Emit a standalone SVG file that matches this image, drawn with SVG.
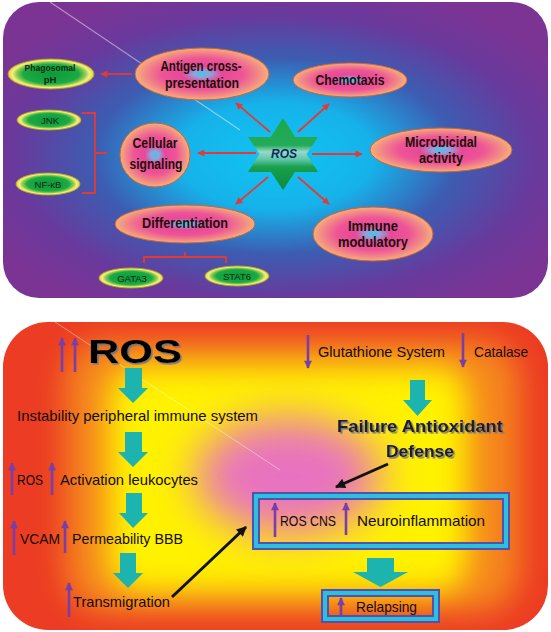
<svg xmlns="http://www.w3.org/2000/svg" width="551" height="632" viewBox="0 0 551 632">
<defs>
<style>
text{font-family:"Liberation Sans",Arial,sans-serif}
.nl{font-weight:bold;fill:#1a1208;text-anchor:middle;font-size:14.5px}
.gl{fill:#0b2a12;text-anchor:middle;font-size:9.5px}
.bt{fill:#140c08;font-size:14.5px}
.red{stroke:#e53935;stroke-width:1.8;fill:none;marker-end:url(#rh)}
.br{stroke:#e53935;stroke-width:1.8;fill:none}
.pu{stroke:#7a3fa6;stroke-width:2.6;marker-end:url(#ph)}
.bk{stroke:#111;stroke-width:3;marker-end:url(#bh)}
.teal{fill:#1db3ae}
.pk{fill:url(#pinkG);stroke:#c8643c;stroke-width:1}
.gr{fill:url(#greenG);stroke:#b8a828;stroke-width:0.8}
</style>
<radialGradient id="topBg" cx="0.5" cy="0.52" r="0.6">
<stop offset="0" stop-color="#10c4f2"/>
<stop offset="0.3" stop-color="#16b2ea"/>
<stop offset="0.55" stop-color="#3c5db2"/>
<stop offset="0.8" stop-color="#69399c"/>
<stop offset="1" stop-color="#7b3494"/>
</radialGradient>
<radialGradient id="pinkG" cx="0.5" cy="0.5" r="0.5">
<stop offset="0" stop-color="#38c8ec"/>
<stop offset="0.12" stop-color="#8ea4dc"/>
<stop offset="0.3" stop-color="#e8489a"/>
<stop offset="0.6" stop-color="#ee5496"/>
<stop offset="0.85" stop-color="#f28a86"/>
<stop offset="1" stop-color="#f6b078"/>
</radialGradient>
<radialGradient id="greenG" cx="0.5" cy="0.5" r="0.5">
<stop offset="0" stop-color="#0e983c"/>
<stop offset="0.65" stop-color="#1aaa44"/>
<stop offset="0.8" stop-color="#8ccc50"/>
<stop offset="0.9" stop-color="#f4f080"/>
<stop offset="1" stop-color="#e2cc36"/>
</radialGradient>
<linearGradient id="starG" x1="0" y1="0" x2="0" y2="1">
<stop offset="0" stop-color="#1ea64c"/>
<stop offset="0.38" stop-color="#22ac58"/>
<stop offset="0.47" stop-color="#9ad8cc"/>
<stop offset="0.58" stop-color="#5cc4a8"/>
<stop offset="0.68" stop-color="#18a04c"/>
<stop offset="1" stop-color="#0c8a3c"/>
</linearGradient>
<clipPath id="botClip"><rect x="3" y="322" width="545" height="308" rx="45"/></clipPath>
<filter id="b15" x="-50%" y="-50%" width="200%" height="200%"><feGaussianBlur stdDeviation="15"/></filter>
<filter id="b22" x="-50%" y="-50%" width="200%" height="200%"><feGaussianBlur stdDeviation="22"/></filter>
<filter id="sh" x="-10%" y="-20%" width="130%" height="150%"><feDropShadow dx="1.6" dy="1.6" stdDeviation="0.4" flood-color="#777" flood-opacity="1"/></filter>
<marker id="rh" viewBox="0 0 10 10" refX="9" refY="5" markerWidth="8" markerHeight="7" markerUnits="userSpaceOnUse" orient="auto"><path d="M0,0 L10,5 L0,10 z" fill="#e53935"/></marker>
<marker id="ph" viewBox="0 0 10 10" refX="9" refY="5" markerWidth="10" markerHeight="8" markerUnits="userSpaceOnUse" orient="auto"><path d="M0,0 L10,5 L0,10 z" fill="#7a3fa6"/></marker>
<marker id="bh" viewBox="0 0 10 10" refX="9" refY="5" markerWidth="12" markerHeight="10" markerUnits="userSpaceOnUse" orient="auto"><path d="M0,0 L10,5 L0,10 z" fill="#111"/></marker>
</defs>
<rect width="551" height="632" fill="#fff"/>

<!-- top panel -->
<g id="top-panel">
<rect x="3" y="2" width="545" height="296" rx="36" fill="url(#topBg)"/>
<line x1="50" y1="2" x2="240" y2="130" stroke="#fff" stroke-opacity="0.45" stroke-width="1.2"/>
</g>

<!-- bottom panel -->
<g id="bottom-panel">
<g clip-path="url(#botClip)">
<rect x="3" y="322" width="545" height="308" fill="#ec3c24"/>
<rect x="65" y="340" width="455" height="272" rx="40" fill="#f5861e" filter="url(#b15)"/>
<rect x="108" y="366" width="360" height="226" rx="30" fill="#fff200" filter="url(#b15)"/>
<ellipse cx="288" cy="476" rx="92" ry="58" fill="#e872c0" filter="url(#b22)"/>
<line x1="55" y1="322" x2="280" y2="470" stroke="#fff" stroke-opacity="0.4" stroke-width="1"/>
</g>
</g>

<!-- connectors -->
<g id="connectors">
<line class="red" x1="132" y1="74" x2="101" y2="74"/>
<path class="br" d="M82,113 H95 V193 H82 M95,153 H107"/>
<path class="br" d="M144,263 V257 H226 V263 M185,257 V252"/>
<line class="red" x1="270" y1="132" x2="236" y2="103"/>
<line class="red" x1="298" y1="132" x2="329" y2="104"/>
<line class="red" x1="256" y1="153" x2="198" y2="153"/>
<line class="red" x1="312" y1="154" x2="362" y2="154"/>
<line class="red" x1="268" y1="177" x2="236" y2="204"/>
<line class="red" x1="298" y1="177" x2="329" y2="204"/>
<path class="teal" d="M125,368 H142 V388 H148 L133,403 L118,388 H125 Z"/>
<path class="teal" d="M125,432 H142 V452 H148 L133,467 L118,452 H125 Z"/>
<path class="teal" d="M126,493 H142 V513 H148 L133,528 L119,513 H126 Z"/>
<path class="teal" d="M120,553 H136 V573 H143 L128,588 L113,573 H120 Z"/>
<path class="teal" d="M410,380 H425 V400 H432 L417.5,416 L403,400 H410 Z"/>
<path class="teal" d="M367,558 H394 V572 H408 L380.5,587 L353,572 H367 Z"/>
<line class="bk" x1="172" y1="597" x2="246" y2="527"/>
<line class="bk" x1="388" y1="464" x2="336" y2="487"/>
<line class="pu" x1="62" y1="372" x2="62" y2="338"/>
<line class="pu" x1="75" y1="372" x2="75" y2="338"/>
<line class="pu" x1="12" y1="495" x2="12" y2="463"/>
<line class="pu" x1="52" y1="495" x2="52" y2="463"/>
<line class="pu" x1="14" y1="555" x2="14" y2="521"/>
<line class="pu" x1="65" y1="553" x2="65" y2="521"/>
<line class="pu" x1="69" y1="617" x2="69" y2="583"/>
<line class="pu" x1="275" y1="537" x2="275" y2="503"/>
<line class="pu" x1="346" y1="535" x2="346" y2="503"/>
<line class="pu" x1="341" y1="615" x2="341" y2="598"/>
<line class="pu" x1="308" y1="335" x2="308" y2="368"/>
<line class="pu" x1="463" y1="333" x2="463" y2="367"/>
</g>

<!-- top nodes -->
<g id="antigen">
<ellipse class="pk" cx="202" cy="74" rx="67" ry="26"/>
<text class="nl" x="201" y="71" textLength="81" lengthAdjust="spacingAndGlyphs">Antigen cross-</text>
<text class="nl" x="202" y="88" textLength="74" lengthAdjust="spacingAndGlyphs">presentation</text>
</g>
<g id="phagosomal">
<ellipse class="gr" cx="51" cy="74" rx="43" ry="15"/>
<text class="gl" x="50" y="71" font-weight="bold" textLength="51" lengthAdjust="spacingAndGlyphs">Phagosomal</text>
<text class="gl" x="50" y="83" font-weight="bold">pH</text>
</g>
<g id="jnk">
<ellipse class="gr" cx="49" cy="120" rx="32" ry="10"/>
<text class="gl" x="50" y="124">JNK</text>
</g>
<g id="nfkb">
<ellipse class="gr" cx="48" cy="184" rx="32" ry="11"/>
<text class="gl" x="48" y="187.5">NF-κB</text>
</g>
<g id="cellular">
<ellipse class="pk" cx="155" cy="155" rx="35" ry="32"/>
<text class="nl" x="155" y="148" font-size="22" textLength="45" lengthAdjust="spacingAndGlyphs">Cellular</text>
<text class="nl" x="156" y="169" font-size="22" textLength="53" lengthAdjust="spacingAndGlyphs">signaling</text>
</g>
<g id="ros-star">
<polygon points="283,118 295.3,137 318,137 306.5,154 318,172 295,172 283,190 271,172 248,172 259.5,154 248,137 270.7,137" fill="url(#starG)"/>
<text x="284" y="158" font-size="12" font-weight="bold" font-style="italic" fill="#0a2a5a" text-anchor="middle">ROS</text>
</g>
<g id="chemotaxis">
<ellipse class="pk" cx="350" cy="80" rx="57" ry="17"/>
<text class="nl" x="350" y="85" textLength="69" lengthAdjust="spacingAndGlyphs">Chemotaxis</text>
</g>
<g id="microbicidal">
<ellipse class="pk" cx="441" cy="150" rx="71" ry="22"/>
<text class="nl" x="441" y="147" textLength="72" lengthAdjust="spacingAndGlyphs">Microbicidal</text>
<text class="nl" x="441" y="163" textLength="44" lengthAdjust="spacingAndGlyphs">activity</text>
</g>
<g id="immune">
<ellipse class="pk" cx="373" cy="234" rx="60" ry="27"/>
<text class="nl" x="373" y="231" textLength="50" lengthAdjust="spacingAndGlyphs">Immune</text>
<text class="nl" x="373" y="247" textLength="70" lengthAdjust="spacingAndGlyphs">modulatory</text>
</g>
<g id="differentiation">
<ellipse class="pk" cx="185" cy="224" rx="70" ry="19"/>
<text class="nl" x="185" y="228" textLength="86" lengthAdjust="spacingAndGlyphs">Differentiation</text>
</g>
<g id="gata3">
<ellipse class="gr" cx="131" cy="278" rx="32" ry="10"/>
<text class="gl" x="132" y="281.5">GATA3</text>
</g>
<g id="stat6">
<ellipse class="gr" cx="237" cy="276" rx="32" ry="10"/>
<text class="gl" x="237" y="279.5">STAT6</text>
</g>

<!-- bottom nodes -->
<g id="ros-big">
<text x="88" y="363" font-size="33" font-weight="bold" fill="#000" filter="url(#sh)" textLength="94" lengthAdjust="spacingAndGlyphs">ROS</text>
</g>
<g id="instability"><text class="bt" x="17" y="421" textLength="241" lengthAdjust="spacingAndGlyphs">Instability peripheral immune system</text></g>
<g id="activation">
<text class="bt" x="17" y="485" textLength="26" lengthAdjust="spacingAndGlyphs">ROS</text>
<text class="bt" x="60" y="485" textLength="138" lengthAdjust="spacingAndGlyphs">Activation leukocytes</text>
</g>
<g id="permeability">
<text class="bt" x="20" y="544" textLength="40" lengthAdjust="spacingAndGlyphs">VCAM</text>
<text class="bt" x="72" y="544" textLength="111" lengthAdjust="spacingAndGlyphs">Permeability BBB</text>
</g>
<g id="transmigration"><text class="bt" x="73" y="607" textLength="97" lengthAdjust="spacingAndGlyphs">Transmigration</text></g>
<g id="glutathione">
<text class="bt" x="318" y="357" textLength="127" lengthAdjust="spacingAndGlyphs">Glutathione System</text>
<text class="bt" x="474" y="357" textLength="54" lengthAdjust="spacingAndGlyphs">Catalase</text>
</g>
<g id="failure">
<text x="420" y="432" font-size="16.5" font-weight="bold" fill="#1a1a2e" filter="url(#sh)" text-anchor="middle" textLength="166" lengthAdjust="spacingAndGlyphs">Failure  Antioxidant</text>
<text x="420" y="457" font-size="16.5" font-weight="bold" fill="#1a1a2e" filter="url(#sh)" text-anchor="middle" textLength="68" lengthAdjust="spacingAndGlyphs">Defense</text>
</g>
<g id="cns-box">
<rect x="256" y="496" width="250" height="50" fill="none" stroke="#5250b0" stroke-width="8"/>
<rect x="256" y="496" width="250" height="50" fill="none" stroke="#2cc0da" stroke-width="4"/>
<text class="bt" x="280" y="526" textLength="56" lengthAdjust="spacingAndGlyphs">ROS CNS</text>
<text class="bt" x="357" y="526" textLength="128" lengthAdjust="spacingAndGlyphs">Neuroinflammation</text>
</g>
<g id="relapsing">
<rect x="325" y="593" width="111" height="26" fill="none" stroke="#5250b0" stroke-width="8"/>
<rect x="325" y="593" width="111" height="26" fill="none" stroke="#2cc0da" stroke-width="4"/>
<text class="bt" x="356" y="612" textLength="61" lengthAdjust="spacingAndGlyphs">Relapsing</text>
</g>
</svg>
